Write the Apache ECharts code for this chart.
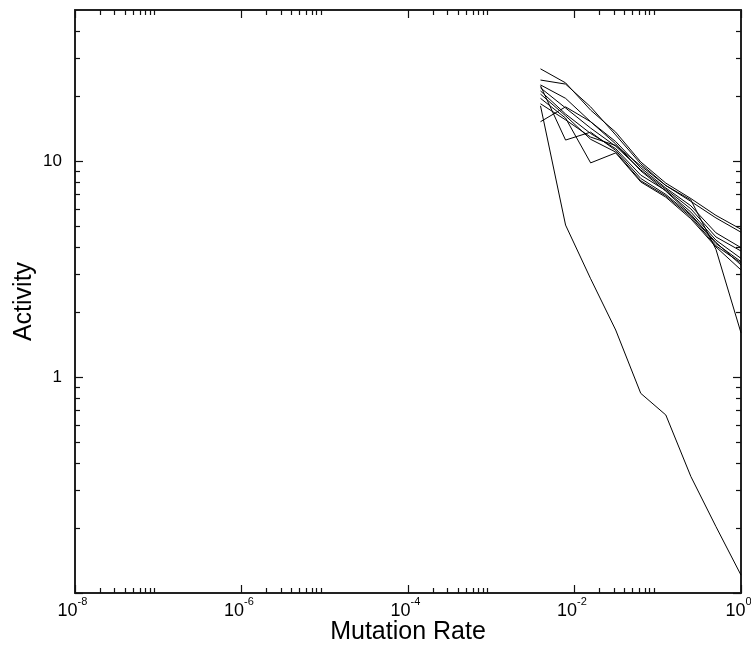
<!DOCTYPE html>
<html>
<head>
<meta charset="utf-8">
<script src="https://cdn.jsdelivr.net/npm/echarts@6/dist/echarts.min.js"></script>
<style>html,body{margin:0;padding:0;background:#fff}#chart{width:751px;height:646px}</style>
</head>
<body>
<div id="chart"></div>
<script>
// Mutation rates (x) shared by all runs
const mutationRates = [1/256, 1/128, 1/64, 1/32, 1/16, 1/8, 1/4, 1/2, 1];
// Activity for each run
const run1  = [26.7, 23.0, 17.2, 13.6, 9.9, 7.9, 6.7, 5.6, 4.83];
const run2  = [23.7, 22.7, 17.8, 13.2, 9.7, 7.7, 6.5, 5.45, 4.68];
const run3  = [22.5, 19.5, 15.2, 12.3, 9.3, 7.5, 6.2, 4.65, 3.97];
const run4  = [21.8, 17.6, 14.2, 11.7, 9.1, 7.4, 6.0, 4.45, 3.83];
const run5  = [21.1, 16.5, 13.4, 11.4, 8.6, 7.3, 5.8, 4.3, 3.54];
const run6  = [22.3, 12.5, 13.6, 11.2, 8.3, 7.0, 5.6, 4.15, 3.42];
const run7  = [20.4, 16.2, 12.6, 11.0, 8.1, 6.9, 5.5, 4.05, 3.37];
const run8  = [15.2, 17.8, 15.2, 12.0, 9.0, 7.25, 5.65, 4.2, 3.30];
const run9  = [19.5, 15.8, 9.8, 10.9, 8.0, 6.8, 5.4, 4.0, 3.13];
const run10 = [18.4, 15.5, 12.9, 11.8, 9.5, 7.7, 6.6, 3.9, 1.6];
const run11 = [18.0, 5.05, 2.85, 1.65, 0.84, 0.667, 0.346, 0.203, 0.121];
const runs = [run1, run2, run3, run4, run5, run6, run7, run8, run9, run10, run11];

// Axis ticks (raw values)
const xMajorTicks = [1e-8, 1e-6, 1e-4, 1e-2, 1];
const xMinorTicks = [2e-8,3e-8,4e-8,5e-8,6e-8,7e-8,8e-8,9e-8,
                     2e-6,3e-6,4e-6,5e-6,6e-6,7e-6,8e-6,9e-6,
                     2e-4,3e-4,4e-4,5e-4,6e-4,7e-4,8e-4,9e-4,
                     2e-2,3e-2,4e-2,5e-2,6e-2,7e-2,8e-2,9e-2];
const yMajorTicks = [0.1, 1, 10];
const yLabelTicks = [1, 10];
const yMinorTicks = [0.2,0.3,0.4,0.5,0.6,0.7,0.8,0.9, 2,3,4,5,6,7,8,9, 20,30,40];
const xRange = [1e-8, 1];
const yRange = [0.1, 50];

const lg = v => Math.log10(v);
const FONT = '"Liberation Sans", Arial, Helvetica, sans-serif';
const frame = {show: true, onZero: false, lineStyle: {color: '#222', width: 2}};
const noLine = {show: false, onZero: false};
const tickStyle = {color: '#111', width: 1.2};
const gridRect = {left: 75, right: 10, top: 10, bottom: 53, containLabel: false, outerBoundsMode: 'none'};

function helperX(grid, pos, ticks, len, showLine, label, name) {
  return {
    gridIndex: grid, type: 'value', position: pos,
    min: lg(xRange[0]), max: lg(xRange[1]),
    axisLine: showLine ? frame : noLine,
    axisTick: {show: true, inside: true, length: len, customValues: ticks.map(lg), lineStyle: tickStyle},
    axisLabel: label || {show: false},
    splitLine: {show: false},
    name: name || '',
    nameLocation: 'middle', nameGap: 27, nameMoveOverlap: false,
    nameTextStyle: {fontSize: 25, color: '#000', fontFamily: FONT}
  };
}
function helperY(grid, pos, ticks, len, showLine, label, name) {
  return {
    gridIndex: grid, type: 'value', position: pos,
    min: lg(yRange[0]), max: lg(yRange[1]),
    axisLine: showLine ? frame : noLine,
    axisTick: {show: true, inside: true, length: len, customValues: ticks.map(lg), lineStyle: tickStyle},
    axisLabel: label || {show: false},
    splitLine: {show: false},
    name: name || '',
    nameLocation: 'middle', nameGap: 38, nameMoveOverlap: false,
    nameTextStyle: {fontSize: 25, color: '#000', fontFamily: FONT}
  };
}

const xLabel = {
  show: true, customValues: xMajorTicks.map(lg), margin: 3,
  showMinLabel: true, showMaxLabel: true,
  formatter: v => '{b|10}{s|' + Math.round(v) + '}',
  rich: {
    b: {fontSize: 18, lineHeight: 24, verticalAlign: 'bottom', color: '#000', fontFamily: FONT},
    s: {fontSize: 11, lineHeight: 11, verticalAlign: 'top', color: '#000', fontFamily: FONT, padding: [0, 5, 0, 0]}
  }
};
const yLabel = {
  show: true, customValues: yLabelTicks.map(lg), margin: 13,
  showMinLabel: true, showMaxLabel: true,
  formatter: v => String(Math.round(Math.pow(10, v))),
  fontSize: 17, color: '#000', fontFamily: FONT
};

const chart = echarts.init(document.getElementById('chart'), null, {renderer: 'canvas'});
chart.setOption({
  animation: false,
  backgroundColor: '#fff',
  textStyle: {fontFamily: FONT},
  grid: [Object.assign({}, gridRect), Object.assign({}, gridRect), Object.assign({}, gridRect)],
  xAxis: [
    {gridIndex: 0, type: 'log', logBase: 10, min: xRange[0], max: xRange[1], show: false},
    helperX(1, 'bottom', xMajorTicks, 8, true, xLabel, 'Mutation Rate'),
    helperX(1, 'top', xMajorTicks, 8, true),
    helperX(2, 'bottom', xMinorTicks, 5, false),
    helperX(2, 'top', xMinorTicks, 5, false)
  ],
  yAxis: [
    {gridIndex: 0, type: 'log', logBase: 10, min: yRange[0], max: yRange[1], show: false},
    helperY(1, 'left', yMajorTicks, 8, true, yLabel, 'Activity'),
    helperY(1, 'right', yMajorTicks, 8, true),
    helperY(2, 'left', yMinorTicks, 5, false),
    helperY(2, 'right', yMinorTicks, 5, false)
  ],
  series: runs.map(r => ({
    type: 'line', xAxisIndex: 0, yAxisIndex: 0,
    data: mutationRates.map((x, i) => [x, r[i]]),
    symbol: 'none', silent: true,
    lineStyle: {color: '#000', width: 1}
  }))
});
</script>
</body>
</html>
